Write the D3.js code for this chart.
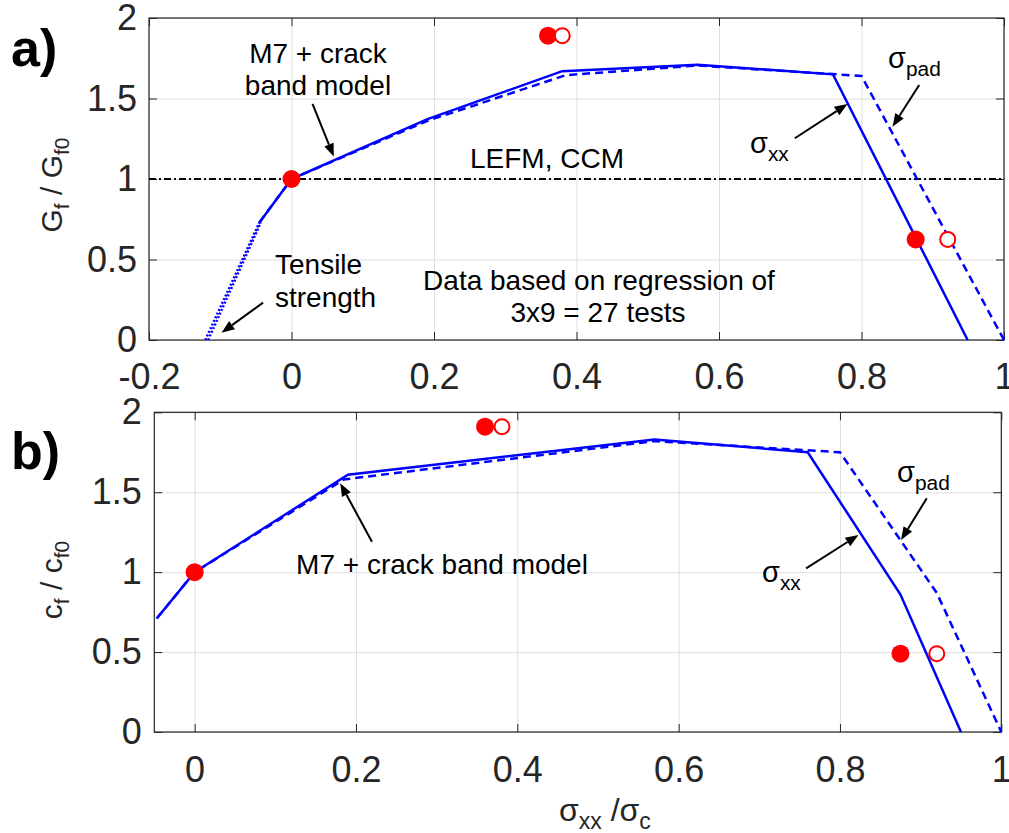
<!DOCTYPE html>
<html><head><meta charset="utf-8">
<script src="https://cdn.jsdelivr.net/npm/d3@7"></script>
<style>
body{margin:0;background:#fff;}
svg{display:block;font-family:"Liberation Sans",Arial,sans-serif;}
</style></head>
<body>
<svg id="chart" width="1009" height="833"></svg>
<script>
// ---------- data ----------
const xTicksA = [-0.2, 0, 0.2, 0.4, 0.6, 0.8, 1];
const xTickLabelsA = ["-0.2", "0", "0.2", "0.4", "0.6", "0.8", "1"];
const xTicksB = [0, 0.2, 0.4, 0.6, 0.8, 1];
const xTickLabelsB = ["0", "0.2", "0.4", "0.6", "0.8", "1"];
const yTicks = [0, 0.5, 1, 1.5, 2];
const yTickLabels = ["0", "0.5", "1", "1.5", "2"];

// panel a) G_f / G_f0
const aSolidX = [-0.045, 0, 0.19, 0.38, 0.57, 0.76, 0.949];
const aSolidY = [0.73, 1, 1.37, 1.67, 1.71, 1.65, 0];
const aDashX  = [-0.045, 0, 0.19, 0.385, 0.57, 0.80, 1.0];
const aDashY  = [0.73, 1, 1.36, 1.645, 1.705, 1.64, 0];
const aTensile1X = [-0.121, -0.045];
const aTensile1Y = [0, 0.73];
const aTensile2X = [-0.117, -0.043];
const aTensile2Y = [0, 0.73];
const aLefmX = [-0.2, 1];
const aLefmY = [1, 1];
const aFilledX = [0, 0.36, 0.876];
const aFilledY = [1, 1.89, 0.625];
const aOpenX = [0.38, 0.921];
const aOpenY = [1.89, 0.625];

// panel b) c_f / c_f0
const bSolidX = [-0.047, 0, 0.19, 0.57, 0.76, 0.875, 0.95];
const bSolidY = [0.71, 1, 1.61, 1.83, 1.75, 0.86, 0];
const bDashX  = [-0.047, 0, 0.185, 0.57, 0.80, 0.92, 1.0];
const bDashY  = [0.71, 1, 1.58, 1.82, 1.75, 0.87, 0];
const bFilledX = [0, 0.36, 0.875];
const bFilledY = [1, 1.91, 0.49];
const bOpenX = [0.381, 0.92];
const bOpenY = [1.91, 0.49];

// ---------- drawing ----------
const svg = d3.select("#chart");
const FONT_TICK = 36;
const FONT_ANN = 28;
const TXT = "#262626";

function zip(xs, ys){ return xs.map((x,i)=>[x, ys[i]]); }

function panel(cfg){
  const x = d3.scaleLinear().domain(cfg.xDomain).range([cfg.left, cfg.right]);
  const y = d3.scaleLinear().domain([0,2]).range([cfg.bottom, cfg.top]);
  const g = svg.append("g");
  const W = cfg.right - cfg.left, H = cfg.bottom - cfg.top;

  // grid
  g.append("g").attr("transform",`translate(0,${cfg.bottom})`)
    .call(d3.axisBottom(x).tickValues(cfg.xTicks).tickSize(-H).tickFormat(""))
    .call(s=>{s.select(".domain").remove(); s.selectAll("line").attr("stroke","#dfdfdf").attr("stroke-width",1);});
  g.append("g").attr("transform",`translate(${cfg.left},0)`)
    .call(d3.axisLeft(y).tickValues(yTicks).tickSize(-W).tickFormat(""))
    .call(s=>{s.select(".domain").remove(); s.selectAll("line").attr("stroke","#dfdfdf").attr("stroke-width",1);});

  // inward ticks on all sides
  const tl = 8;
  const tickStyle = s=>{s.select(".domain").remove(); s.selectAll("line").attr("stroke",TXT).attr("stroke-width",1);};
  g.append("g").attr("transform",`translate(0,${cfg.bottom})`).call(d3.axisBottom(x).tickValues(cfg.xTicks).tickSize(-tl).tickFormat("")).call(tickStyle);
  g.append("g").attr("transform",`translate(0,${cfg.top})`).call(d3.axisTop(x).tickValues(cfg.xTicks).tickSize(-tl).tickFormat("")).call(tickStyle);
  g.append("g").attr("transform",`translate(${cfg.left},0)`).call(d3.axisLeft(y).tickValues(yTicks).tickSize(-tl).tickFormat("")).call(tickStyle);
  g.append("g").attr("transform",`translate(${cfg.right},0)`).call(d3.axisRight(y).tickValues(yTicks).tickSize(-tl).tickFormat("")).call(tickStyle);

  // tick labels
  const labStyle = s=>{s.select(".domain").remove(); s.selectAll("line").remove();
    s.selectAll("text").attr("font-size",FONT_TICK).attr("fill",TXT).attr("font-family","Liberation Sans, Arial, sans-serif");};
  g.append("g").attr("transform",`translate(0,${cfg.bottom})`)
    .call(d3.axisBottom(x).tickValues(cfg.xTicks).tickSize(0).tickPadding(cfg.xPad).tickFormat((d,i)=>cfg.xLabels[i])).call(labStyle);
  g.append("g").attr("transform",`translate(${cfg.left},0)`)
    .call(d3.axisLeft(y).tickValues(yTicks).tickSize(0).tickPadding(cfg.yPad).tickFormat((d,i)=>yTickLabels[i])).call(labStyle);

  // box
  g.append("rect").attr("x",cfg.left).attr("y",cfg.top).attr("width",W).attr("height",H)
    .attr("fill","none").attr("stroke",TXT).attr("stroke-width",1.2);

  const line = d3.line().x(d=>x(d[0])).y(d=>y(d[1]));
  return {x, y, g, line};
}

function arrow(g, x, y, x1, y1, x2, y2){
  const X1=x(x1), Y1=y(y1), X2=x(x2), Y2=y(y2);
  const ang = Math.atan2(Y2-Y1, X2-X1);
  const L=13, Wd=5;
  const bx = X2 - L*Math.cos(ang), by = Y2 - L*Math.sin(ang);
  g.append("line").attr("x1",X1).attr("y1",Y1).attr("x2",bx).attr("y2",by).attr("stroke","#000").attr("stroke-width",2);
  g.append("path").attr("d",`M${X2},${Y2}L${bx+Wd*Math.sin(ang)},${by-Wd*Math.cos(ang)}L${bx-Wd*Math.sin(ang)},${by+Wd*Math.cos(ang)}Z`).attr("fill","#000");
}

function sigma(g, px, py, sub, size){
  const t = g.append("text").attr("x",px).attr("y",py).attr("font-size",size).attr("fill","#000");
  t.append("tspan").text("σ");
  t.append("tspan").attr("font-size",size*0.72).attr("dy",size*0.28).text(sub);
}

// ---- panel a ----
const A = panel({xDomain:[-0.2,1], left:149, right:1004, top:18, bottom:340,
  xTicks:xTicksA, xLabels:xTickLabelsA, xPad:23.5, yPad:12});

A.g.append("path").datum(zip(aLefmX,aLefmY)).attr("d",A.line).attr("fill","none")
  .attr("stroke","#000").attr("stroke-width",2).attr("stroke-dasharray","7,3,2,3");
A.g.append("path").datum(zip(aTensile1X,aTensile1Y)).attr("d",A.line).attr("fill","none")
  .attr("stroke","#0000ff").attr("stroke-width",2.5).attr("stroke-dasharray","2,2");
A.g.append("path").datum(zip(aTensile2X,aTensile2Y)).attr("d",A.line).attr("fill","none")
  .attr("stroke","#0000ff").attr("stroke-width",2.5).attr("stroke-dasharray","2,2");
A.g.append("path").datum(zip(aDashX,aDashY)).attr("d",A.line).attr("fill","none")
  .attr("stroke","#0000ff").attr("stroke-width",2.5).attr("stroke-dasharray","8,5");
A.g.append("path").datum(zip(aSolidX,aSolidY)).attr("d",A.line).attr("fill","none")
  .attr("stroke","#0000ff").attr("stroke-width",2.5);

A.g.selectAll(".fa").data(zip(aFilledX,aFilledY)).enter().append("circle")
  .attr("cx",d=>A.x(d[0])).attr("cy",d=>A.y(d[1])).attr("r",9).attr("fill","#ff0000");
A.g.selectAll(".oa").data(zip(aOpenX,aOpenY)).enter().append("circle")
  .attr("cx",d=>A.x(d[0])).attr("cy",d=>A.y(d[1])).attr("r",7.5).attr("fill","#fff").attr("stroke","#ff0000").attr("stroke-width",2);

// annotations a
const annA = A.g.append("g").attr("font-size",FONT_ANN).attr("fill","#000");
annA.append("text").attr("x",318).attr("y",63).attr("text-anchor","middle").text("M7 + crack");
annA.append("text").attr("x",318).attr("y",95).attr("text-anchor","middle").text("band model");
annA.append("text").attr("x",547).attr("y",168).attr("text-anchor","middle").text("LEFM, CCM");
annA.append("text").attr("x",275).attr("y",274).text("Tensile");
annA.append("text").attr("x",275).attr("y",307).text("strength");
annA.append("text").attr("x",599).attr("y",290).attr("text-anchor","middle").text("Data based on regression of");
annA.append("text").attr("x",598).attr("y",322).attr("text-anchor","middle").text("3x9 = 27 tests");
sigma(A.g, 888, 68, "pad", 29);
sigma(A.g, 750, 153, "xx", 29);
arrow(A.g, A.x, A.y, 0.0295, 1.466, 0.0594, 1.139);
arrow(A.g, A.x, A.y, -0.0399, 0.232, -0.0982, 0.045);
arrow(A.g, A.x, A.y, 0.7064, 1.253, 0.7804, 1.466);
arrow(A.g, A.x, A.y, 0.881, 1.584, 0.8435, 1.325);

// ---- panel b ----
const B = panel({xDomain:[-0.05,1], left:154.3, right:1001.3, top:412.3, bottom:732,
  xTicks:xTicksB, xLabels:xTickLabelsB, xPad:24, yPad:12.6});

B.g.append("path").datum(zip(bDashX,bDashY)).attr("d",B.line).attr("fill","none")
  .attr("stroke","#0000ff").attr("stroke-width",2.5).attr("stroke-dasharray","8,5");
B.g.append("path").datum(zip(bSolidX,bSolidY)).attr("d",B.line).attr("fill","none")
  .attr("stroke","#0000ff").attr("stroke-width",2.5);
B.g.selectAll(".fb").data(zip(bFilledX,bFilledY)).enter().append("circle")
  .attr("cx",d=>B.x(d[0])).attr("cy",d=>B.y(d[1])).attr("r",9).attr("fill","#ff0000");
B.g.selectAll(".ob").data(zip(bOpenX,bOpenY)).enter().append("circle")
  .attr("cx",d=>B.x(d[0])).attr("cy",d=>B.y(d[1])).attr("r",7.5).attr("fill","#fff").attr("stroke","#ff0000").attr("stroke-width",2);

const annB = B.g.append("g").attr("font-size",FONT_ANN).attr("fill","#000");
annB.append("text").attr("x",442).attr("y",574).attr("text-anchor","middle").text("M7 + crack band model");
sigma(B.g, 897, 482, "pad", 29);
sigma(B.g, 762, 582, "xx", 29);
arrow(B.g, B.x, B.y, 0.2198, 1.190, 0.1805, 1.556);
arrow(B.g, B.x, B.y, 0.758, 1.024, 0.823, 1.232);
arrow(B.g, B.x, B.y, 0.9076, 1.462, 0.8757, 1.201);

// ---- panel letters ----
svg.append("text").attr("x",11).attr("y",66).attr("font-size",52).attr("font-weight","bold").attr("fill","#000").text("a)");
svg.append("text").attr("x",11).attr("y",469).attr("font-size",52).attr("font-weight","bold").attr("fill","#000").text("b)");

// ---- axis labels ----
function ylab(cx, cy, main){
  const t = svg.append("text").attr("transform",`translate(${cx},${cy}) rotate(-90)`)
    .attr("text-anchor","middle").attr("font-size",30).attr("fill",TXT);
  t.append("tspan").text(main);
  t.append("tspan").attr("font-size",21).attr("dy",7).text("f");
  t.append("tspan").attr("dy",-7).text(" / " + main);
  t.append("tspan").attr("font-size",21).attr("dy",7).text("f0");
}
ylab(62, 185, "G");
ylab(62, 580, "c");

const xl = svg.append("text").attr("x",559).attr("y",821).attr("font-size",32).attr("fill",TXT);
xl.append("tspan").text("σ");
xl.append("tspan").attr("font-size",23).attr("dy",8).text("xx");
xl.append("tspan").attr("dy",-8).text(" /σ");
xl.append("tspan").attr("font-size",23).attr("dy",8).text("c");
</script>
</body></html>
